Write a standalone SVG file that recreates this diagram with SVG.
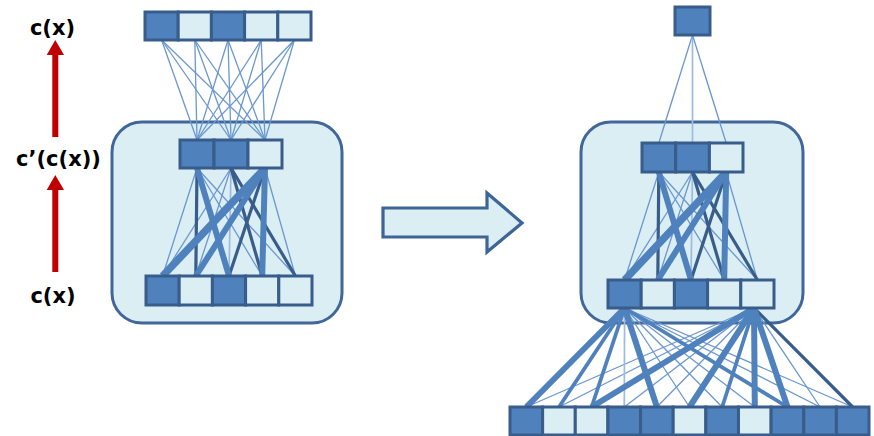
<svg xmlns="http://www.w3.org/2000/svg" width="874" height="436" viewBox="0 0 874 436">
<style>
.dk{fill:#4f81bd;stroke:#385d8a;stroke-width:3}
.lt{fill:#dbeef4;stroke:#385d8a;stroke-width:3}
.box{fill:#dbeef4;stroke:#41679a;stroke-width:3}
.thin{stroke:#6b97cf;stroke-width:1.3;fill:none}
.vl{stroke:#9dbbe0;stroke-width:1.7;fill:none}
.dark{stroke:#385d8a;stroke-width:3.2;fill:none}
.med{stroke:#4f81bd;stroke-width:3.8;fill:none}
.thick{stroke:#4f81bd;stroke-width:6;fill:none}
.xthick{stroke:#4f81bd;stroke-width:7.5;fill:none}
.red{fill:#c00000}
.lbl{font-family:"DejaVu Sans",Verdana,sans-serif;font-weight:bold;font-size:21px;fill:#000;text-anchor:middle}
</style>

<g id="label-top"><text class="lbl" x="52.5" y="35">c(x)</text></g>
<g id="label-mid"><text class="lbl" x="58.5" y="166">c’(c(x))</text></g>
<g id="label-bot"><text class="lbl" x="53" y="303">c(x)</text></g>

<g id="box-left"><rect class="box" x="112" y="122" width="230" height="201" rx="30"/></g>
<g id="box-right"><rect class="box" x="581" y="122" width="222" height="201" rx="30"/></g>

<g id="connectors">
  <rect class="red" x="52.3" y="54" width="6" height="83"/>
  <polygon class="red" points="46.7,55 55.3,40 64,55"/>
  <rect class="red" x="52.3" y="189" width="6" height="83"/>
  <polygon class="red" points="46.7,190 55.3,175 64,190"/>
  <polygon points="383,208 487,208 487,193 522,223 487,252 487,237 383,237" fill="#dbeef4" stroke="#3d6596" stroke-width="3.2" stroke-linejoin="miter"/>

  <g class="thin">
    <line x1="161.6" y1="40" x2="197" y2="140"/><line x1="161.6" y1="40" x2="231" y2="140"/><line x1="161.6" y1="40" x2="265" y2="140"/>
    <line x1="194.8" y1="40" x2="197" y2="140"/><line x1="194.8" y1="40" x2="231" y2="140"/><line x1="194.8" y1="40" x2="265" y2="140"/>
    <line x1="228" y1="40" x2="197" y2="140"/><line x1="228" y1="40" x2="231" y2="140"/><line x1="228" y1="40" x2="265" y2="140"/>
    <line x1="261.2" y1="40" x2="197" y2="140"/><line x1="261.2" y1="40" x2="231" y2="140"/><line x1="261.2" y1="40" x2="265" y2="140"/>
    <line x1="294.4" y1="40" x2="197" y2="140"/><line x1="294.4" y1="40" x2="231" y2="140"/><line x1="294.4" y1="40" x2="265" y2="140"/>
  </g>

  <line class="thin" x1="197" y1="168" x2="162.6" y2="276"/>
  <line class="thin" x1="197" y1="168" x2="262.2" y2="276"/>
  <line class="thin" x1="197" y1="168" x2="295.4" y2="276"/>
  <line class="thin" x1="231" y1="168" x2="162.6" y2="276"/>
  <line class="thin" x1="231" y1="168" x2="195.8" y2="276"/>
  <line class="thin" x1="265" y1="168" x2="295.4" y2="276"/>
  <line class="vl" x1="231" y1="168" x2="229" y2="276"/>
  <line class="dark" x1="197" y1="168" x2="195.8" y2="276"/>
  <line class="dark" x1="231" y1="168" x2="262.2" y2="276"/>
  <line class="dark" x1="231" y1="168" x2="295.4" y2="276"/>
  <line class="dark" x1="265" y1="168" x2="229" y2="276"/>
  <line class="thick" x1="197" y1="168" x2="229" y2="276"/>
  <line class="thick" x1="265" y1="168" x2="195.8" y2="276"/>
  <line class="thick" x1="265" y1="168" x2="262.2" y2="276"/>
  <line class="xthick" x1="265" y1="168" x2="162.6" y2="276"/>

  <line class="thin" x1="692.5" y1="35" x2="658.8" y2="143" stroke-width="1.7"/>
  <line class="vl" x1="692.5" y1="35" x2="692.5" y2="143" stroke="#7ea3d4" stroke-width="2.2"/>
  <line class="thin" x1="692.5" y1="35" x2="726.2" y2="143" stroke-width="1.7"/>

  <line class="thin" x1="658.8" y1="172" x2="624.6" y2="280"/>
  <line class="thin" x1="658.8" y1="172" x2="724.2" y2="280"/>
  <line class="thin" x1="658.8" y1="172" x2="757.4" y2="280"/>
  <line class="thin" x1="692.5" y1="172" x2="624.6" y2="280"/>
  <line class="thin" x1="692.5" y1="172" x2="657.8" y2="280"/>
  <line class="thin" x1="726.2" y1="172" x2="757.4" y2="280"/>
  <line class="vl" x1="692.5" y1="172" x2="691" y2="280"/>
  <line class="dark" x1="658.8" y1="172" x2="657.8" y2="280"/>
  <line class="dark" x1="692.5" y1="172" x2="724.2" y2="280"/>
  <line class="dark" x1="692.5" y1="172" x2="757.4" y2="280"/>
  <line class="dark" x1="726.2" y1="172" x2="691" y2="280"/>
  <line class="thick" x1="658.8" y1="172" x2="691" y2="280"/>
  <line class="thick" x1="726.2" y1="172" x2="657.8" y2="280"/>
  <line class="thick" x1="726.2" y1="172" x2="724.2" y2="280"/>
  <line class="xthick" x1="726.2" y1="172" x2="624.6" y2="280"/>

  <g class="thin">
    <line x1="624.6" y1="308" x2="689.5" y2="407"/>
    <line x1="624.6" y1="308" x2="722.2" y2="407"/>
    <line x1="624.6" y1="308" x2="754.8" y2="407"/>
    <line x1="624.6" y1="308" x2="820.1" y2="407"/>
    <line x1="624.6" y1="308" x2="852.7" y2="407"/>
    <line x1="754" y1="308" x2="526.3" y2="407"/>
    <line x1="754" y1="308" x2="559" y2="407"/>
    <line x1="754" y1="308" x2="624.3" y2="407"/>
    <line x1="754" y1="308" x2="656.9" y2="407"/>
    <line x1="754" y1="308" x2="820.1" y2="407"/>
  </g>
  <line class="vl" x1="624.6" y1="308" x2="624.3" y2="407"/>
  <line class="dark" x1="754" y1="308" x2="852.7" y2="407" stroke-width="2.6"/>
  <line class="med" x1="624.6" y1="308" x2="787.5" y2="407" stroke-width="3"/>
  <line class="med" x1="624.6" y1="308" x2="559" y2="407"/>
  <line class="med" x1="624.6" y1="308" x2="591.6" y2="407" stroke-width="4.5"/>
  <line class="med" x1="754" y1="308" x2="722.2" y2="407"/>
  <line class="thick" x1="624.6" y1="308" x2="526.3" y2="407"/>
  <line class="thick" x1="624.6" y1="308" x2="656.9" y2="407"/>
  <line class="thick" x1="754" y1="308" x2="591.6" y2="407"/>
  <line class="thick" x1="754" y1="308" x2="689.5" y2="407"/>
  <line class="thick" x1="754" y1="308" x2="754.8" y2="407"/>
  <line class="thick" x1="754" y1="308" x2="787.5" y2="407" stroke-width="5.5"/>
</g>

<g id="layer-left-top">
  <rect class="dk" x="145" y="12" width="33.2" height="28"/>
  <rect class="lt" x="178.2" y="12" width="33.2" height="28"/>
  <rect class="dk" x="211.4" y="12" width="33.2" height="28"/>
  <rect class="lt" x="244.6" y="12" width="33.2" height="28"/>
  <rect class="lt" x="277.8" y="12" width="33.2" height="28"/>
</g>
<g id="layer-left-mid">
  <rect class="dk" x="180" y="140" width="34" height="28"/>
  <rect class="dk" x="214" y="140" width="34" height="28"/>
  <rect class="lt" x="248" y="140" width="34" height="28"/>
</g>
<g id="layer-left-bot">
  <rect class="dk" x="146" y="276" width="33.2" height="29"/>
  <rect class="lt" x="179.2" y="276" width="33.2" height="29"/>
  <rect class="dk" x="212.4" y="276" width="33.2" height="29"/>
  <rect class="lt" x="245.6" y="276" width="33.2" height="29"/>
  <rect class="lt" x="278.8" y="276" width="33.2" height="29"/>
</g>

<g id="layer-right-top">
  <rect class="dk" x="675" y="7" width="35" height="28"/>
</g>
<g id="layer-right-mid">
  <rect class="dk" x="642" y="143" width="33.7" height="29"/>
  <rect class="dk" x="675.7" y="143" width="33.7" height="29"/>
  <rect class="lt" x="709.4" y="143" width="33.6" height="29"/>
</g>
<g id="layer-right-boxbot">
  <rect class="dk" x="608" y="280" width="33.2" height="28"/>
  <rect class="lt" x="641.2" y="280" width="33.2" height="28"/>
  <rect class="dk" x="674.4" y="280" width="33.2" height="28"/>
  <rect class="lt" x="707.6" y="280" width="33.2" height="28"/>
  <rect class="lt" x="740.8" y="280" width="33.2" height="28"/>
</g>
<g id="layer-right-wide">
  <rect class="dk" x="510" y="407" width="32.64" height="28"/>
  <rect class="lt" x="542.64" y="407" width="32.64" height="28"/>
  <rect class="lt" x="575.28" y="407" width="32.64" height="28"/>
  <rect class="dk" x="607.92" y="407" width="32.64" height="28"/>
  <rect class="dk" x="640.56" y="407" width="32.64" height="28"/>
  <rect class="lt" x="673.2" y="407" width="32.64" height="28"/>
  <rect class="dk" x="705.84" y="407" width="32.64" height="28"/>
  <rect class="lt" x="738.48" y="407" width="32.64" height="28"/>
  <rect class="dk" x="771.12" y="407" width="32.64" height="28"/>
  <rect class="dk" x="803.76" y="407" width="32.64" height="28"/>
  <rect class="dk" x="836.4" y="407" width="32.6" height="28"/>
</g>
</svg>
